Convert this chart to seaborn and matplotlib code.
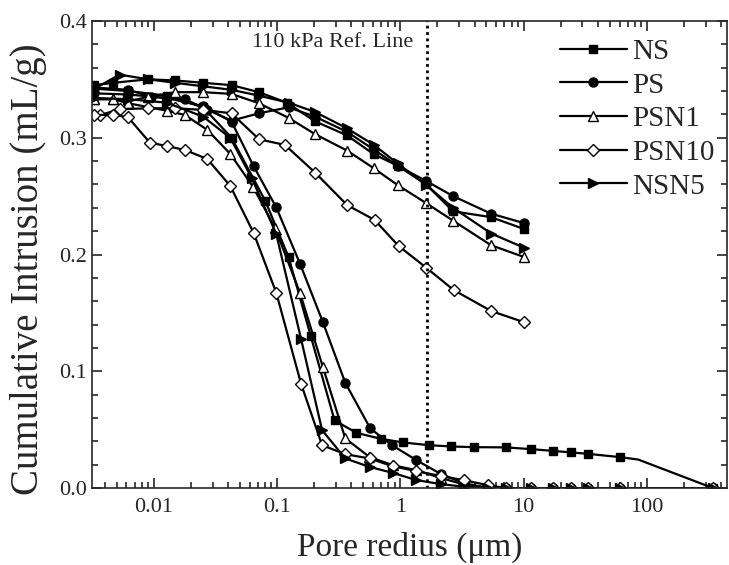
import matplotlib
matplotlib.use("Agg")
import matplotlib.pyplot as plt
import seaborn as sns
from matplotlib.ticker import FuncFormatter, MultipleLocator, LogLocator

# pore radius (um) / cumulative intrusion (mL/g), two runs per sample
ns_upper_x = [0.0033, 0.0047, 0.009, 0.015, 0.0252, 0.0428, 0.0714, 0.12, 0.204, 0.37, 0.607, 0.951, 1.62, 2.68, 5.44, 10]
ns_upper_y = [0.345, 0.347, 0.350, 0.349, 0.347, 0.345, 0.339, 0.330, 0.314, 0.302, 0.286, 0.276, 0.260, 0.237, 0.232, 0.222]
ns_lower_x = [0.0033, 0.0062, 0.0127, 0.0252, 0.0428, 0.0803, 0.124, 0.188, 0.293, 0.44, 0.697, 1.06, 1.70, 2.58,
              3.93, 7.24, 11.5, 17.3, 24.3, 33.1, 60.1, 85, 345]
ns_lower_y = [0.342, 0.340, 0.336, 0.326, 0.300, 0.246, 0.198, 0.130, 0.058, 0.0474, 0.0422, 0.0391, 0.0368, 0.0357,
              0.0351, 0.0349, 0.0334, 0.0319, 0.0306, 0.0294, 0.0266, 0.0245, 0.0]

ps_upper_x = [0.0033, 0.0062, 0.0095, 0.0179, 0.0272, 0.0428, 0.0714, 0.124, 0.204, 0.37, 0.607, 0.951, 1.62, 2.68, 5.44, 10]
ps_upper_y = [0.343, 0.341, 0.335, 0.333, 0.324, 0.3146, 0.3209, 0.326, 0.318, 0.305, 0.290, 0.276, 0.263, 0.250, 0.235, 0.227]
ps_lower_x = [0.0033, 0.0062, 0.0127, 0.0252, 0.0428, 0.0645, 0.0986, 0.154, 0.235, 0.358, 0.571, 0.856, 1.35, 2.14,
              3.26, 5.1, 7.24, 11.5, 17.3, 24.3, 33.1, 60.1, 345]
ps_lower_y = [0.338, 0.337, 0.334, 0.327, 0.3137, 0.2758, 0.2404, 0.1919, 0.1424, 0.0902, 0.0511, 0.0368, 0.024, 0.012,
              0.0045, 0.0, 0.0, 0.0, 0.0, 0.0, 0.0, 0.0, 0.0]

psn1_upper_x = [0.0033, 0.0047, 0.0062, 0.009, 0.015, 0.0252, 0.0428, 0.0714, 0.124, 0.204, 0.37, 0.607, 0.951, 1.62, 2.68, 5.44, 10]
psn1_upper_y = [0.333, 0.333, 0.331, 0.335, 0.339, 0.339, 0.3375, 0.3295, 0.317, 0.303, 0.289, 0.274, 0.2595, 0.244, 0.229, 0.208, 0.198]
psn1_lower_x = [0.0033, 0.0047, 0.0062, 0.0127, 0.0179, 0.0273, 0.0418, 0.0638, 0.0967, 0.154, 0.236, 0.358, 0.561,
                0.866, 1.35, 2.15, 3.24, 5.1, 7.24, 11.5, 17.3, 24.3, 33.1, 60.1, 345]
psn1_lower_y = [0.333, 0.333, 0.3295, 0.3232, 0.3195, 0.3066, 0.2861, 0.2581, 0.2224, 0.1668, 0.1034, 0.0426, 0.0268,
                0.0197, 0.0154, 0.0086, 0.0034, 0.0004, 0.0, 0.0, 0.0, 0.0, 0.0, 0.0, 0.0]

psn10_upper_x = [0.0037, 0.0053, 0.009, 0.015, 0.0252, 0.0428, 0.0714, 0.116, 0.204, 0.37, 0.619, 0.969, 1.625, 2.71, 5.47, 10]
psn10_upper_y = [0.3195, 0.3244, 0.3252, 0.3252, 0.3238, 0.3209, 0.2987, 0.2938, 0.2701, 0.2424, 0.2296, 0.2073, 0.1887,
                 0.1696, 0.1516, 0.1422]
psn10_lower_x = [0.0033, 0.0047, 0.0062, 0.0093, 0.0127, 0.0179, 0.0272, 0.0418, 0.0645, 0.0986, 0.157, 0.232, 0.358,
                 0.564, 0.866, 1.35, 2.15, 3.26, 5.11, 7.24, 11.5, 17.3, 24.3, 33.1, 60.1, 345]
psn10_lower_y = [0.3195, 0.3195, 0.3175, 0.2958, 0.2929, 0.2895, 0.2818, 0.2587, 0.2187, 0.1673, 0.0891, 0.0368, 0.0291,
                 0.0254, 0.0188, 0.0146, 0.0103, 0.0069, 0.0026, 0.0, 0.0, 0.0, 0.0, 0.0, 0.0, 0.0]

nsn5_upper_x = [0.0033, 0.0053, 0.009, 0.015, 0.0252, 0.0428, 0.0714, 0.124, 0.204, 0.37, 0.607, 0.951, 1.62, 2.68, 5.47, 10]
nsn5_upper_y = [0.342, 0.354, 0.350, 0.347, 0.344, 0.341, 0.336, 0.330, 0.322, 0.308, 0.294, 0.278, 0.2595, 0.240, 0.218, 0.206]
nsn5_lower_x = [0.0033, 0.0062, 0.0127, 0.0252, 0.0417, 0.0626, 0.0986, 0.157, 0.232, 0.358, 0.564, 0.866, 1.35, 2.15,
                3.26, 5.1, 7.24, 11.5, 17.3, 24.3, 33.1, 60.1, 345]
nsn5_lower_y = [0.334, 0.333, 0.330, 0.318, 0.300, 0.2653, 0.2176, 0.1274, 0.0497, 0.0254, 0.0182, 0.0131, 0.0069, 0.0034,
                0.0013, 0.0, 0.0, 0.0, 0.0, 0.0, 0.0, 0.0, 0.0]

ref_line_x = 1.65
ref_line_label = "110 kPa Ref. Line"

sns.set_style("ticks")
plt.rcParams["font.family"] = ["Liberation Serif", "DejaVu Serif"]
plt.rcParams["axes.linewidth"] = 1.2

fig = plt.figure(figsize=(7.29, 5.65), dpi=100)
ax = fig.add_axes([0.126, 0.136, 0.871, 0.827])

series = [
    ("NS", "s", "black", 6, [(ns_upper_x, ns_upper_y), (ns_lower_x, ns_lower_y)]),
    ("PS", "o", "black", 6.5, [(ps_upper_x, ps_upper_y), (ps_lower_x, ps_lower_y)]),
    ("PSN1", "^", "white", 7.5, [(psn1_upper_x, psn1_upper_y), (psn1_lower_x, psn1_lower_y)]),
    ("PSN10", "D", "white", 6, [(psn10_upper_x, psn10_upper_y), (psn10_lower_x, psn10_lower_y)]),
    ("NSN5", ">", "black", 7.5, [(nsn5_upper_x, nsn5_upper_y), (nsn5_lower_x, nsn5_lower_y)]),
]

for name, mk, face, ms, curves in series:
    for i, (xs, ys) in enumerate(curves):
        every = None
        if name == "NS" and i == 1:
            every = [j for j in range(len(xs)) if xs[j] != 85]
        sns.lineplot(x=xs, y=ys, ax=ax, sort=False, estimator=None, color="black", linewidth=1.6,
                     marker=mk, markersize=ms, markerfacecolor=face, markeredgecolor="black",
                     markeredgewidth=1.0, markevery=every, label=name if i == 0 else None, legend=False)

ax.axvline(ref_line_x, color="black", linewidth=2, linestyle=(0, (1, 1.3)))
ax.text(0.063, 0.953, ref_line_label, fontsize=16, va="center", ha="left",
        transform=ax.get_xaxis_transform())

ax.set_xscale("log")
ax.set_xlim(0.00315, 445)
ax.set_ylim(0, 0.4)
ax.xaxis.set_major_locator(LogLocator(base=10, numticks=10))
ax.xaxis.set_minor_locator(LogLocator(base=10, subs=range(2, 10), numticks=20))
ax.xaxis.set_major_formatter(FuncFormatter(lambda v, p: f"{v:g}"))
ax.yaxis.set_major_locator(MultipleLocator(0.1))
ax.yaxis.set_minor_locator(MultipleLocator(0.02))
ax.yaxis.set_major_formatter(FuncFormatter(lambda v, p: f"{v:.1f}"))
ax.tick_params(which="both", direction="in", top=True, right=True, labelsize=16, width=1.2)
ax.tick_params(which="major", length=7)
ax.tick_params(which="minor", length=4)
ax.tick_params(axis="x", pad=7)

ax.set_xlabel("Pore redius (\u03bcm)", fontsize=24, labelpad=11)
ax.set_ylabel("Cumulative Intrusion (mL/g)", fontsize=28)
ax.yaxis.set_label_coords(-0.071, 0.469)

handles, labels = ax.get_legend_handles_labels()
ax.legend(handles, labels, loc="upper right", bbox_to_anchor=(1.009, 1.0), frameon=False,
          fontsize=21, handlelength=2.3, handletextpad=0.2, labelspacing=0.25, borderaxespad=0.2)

fig.savefig("out.png", dpi=100)
